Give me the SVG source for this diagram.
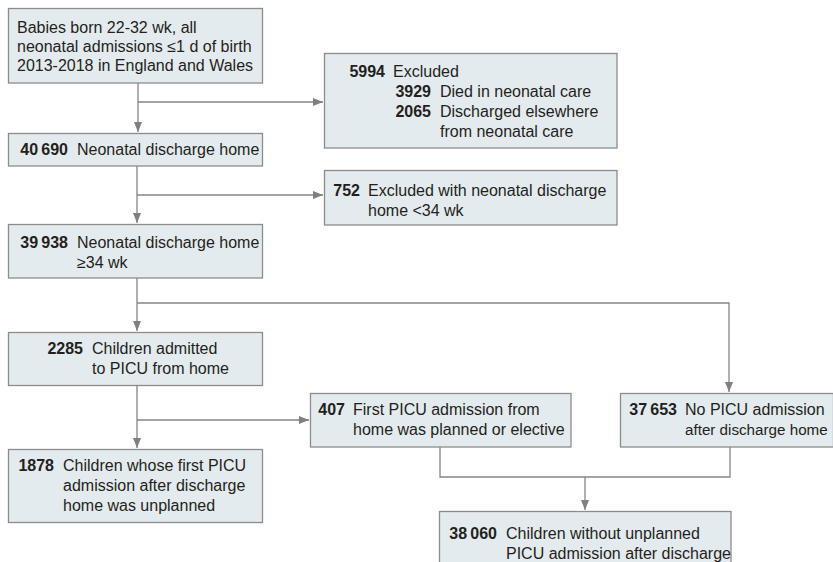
<svg xmlns="http://www.w3.org/2000/svg" width="833" height="562" viewBox="0 0 833 562">
<defs>
<marker id="arr" viewBox="0 0 10 8" refX="10" refY="4" markerWidth="10" markerHeight="8" markerUnits="userSpaceOnUse" orient="auto">
<path d="M0,0 L10,4 L0,8 Z" fill="#808080"/>
</marker>
<style>
.box{fill:#e4ebee;stroke:#8c8c8c;stroke-width:1.3}
.ln{fill:none;stroke:#858585;stroke-width:1.3}
text{font-family:"Liberation Sans",Arial,sans-serif;font-size:16px;fill:#231f20}
.n{font-weight:bold;text-anchor:end}
</style>
</defs>
<g id="connectors">
<path class="ln" d="M138,83 V132" marker-end="url(#arr)"/>
<path class="ln" d="M138,102 H323" marker-end="url(#arr)"/>
<path class="ln" d="M137,166 V223" marker-end="url(#arr)"/>
<path class="ln" d="M137,195 H323" marker-end="url(#arr)"/>
<path class="ln" d="M137,278 V331" marker-end="url(#arr)"/>
<path class="ln" d="M137,303 H729 V392" marker-end="url(#arr)"/>
<path class="ln" d="M137,385 V448" marker-end="url(#arr)"/>
<path class="ln" d="M137,420 H309" marker-end="url(#arr)"/>
<path class="ln" d="M440,447 V477 H730 V447"/>
<path class="ln" d="M585,477 V510" marker-end="url(#arr)"/>
</g>
<g id="n1">
<rect class="box" x="8.5" y="8.5" width="254" height="74.5"/>
<text x="17" y="33">Babies born 22-32 wk, all</text>
<text x="17" y="52">neonatal admissions ≤1 d of birth</text>
<text x="17" y="71">2013-2018 in England and Wales</text>
</g>
<g id="n2">
<rect class="box" x="8.5" y="133.5" width="254" height="32.5"/>
<text class="n" x="68" y="155">40&#8201;690</text>
<text x="77" y="155">Neonatal discharge home</text>
</g>
<g id="n3">
<rect class="box" x="8.5" y="224.5" width="254" height="53.5"/>
<text class="n" x="68" y="248">39&#8201;938</text>
<text x="77" y="248">Neonatal discharge home</text>
<text x="77" y="268">≥34 wk</text>
</g>
<g id="n4">
<rect class="box" x="8.5" y="332.5" width="254" height="53"/>
<text class="n" x="83" y="354">2285</text>
<text x="92" y="354">Children admitted</text>
<text x="92" y="374">to PICU from home</text>
</g>
<g id="n5">
<rect class="box" x="8.5" y="449.5" width="254" height="73"/>
<text class="n" x="54" y="471">1878</text>
<text x="63" y="471">Children whose first PICU</text>
<text x="63" y="491">admission after discharge</text>
<text x="63" y="511">home was unplanned</text>
</g>
<g id="e1">
<rect class="box" x="324.5" y="53.5" width="292.5" height="94.5"/>
<text class="n" x="385" y="77">5994</text>
<text x="393" y="77">Excluded</text>
<text class="n" x="431" y="97">3929</text>
<text x="440" y="97">Died in neonatal care</text>
<text class="n" x="431" y="117">2065</text>
<text x="440" y="117">Discharged elsewhere</text>
<text x="440" y="137">from neonatal care</text>
</g>
<g id="e2">
<rect class="box" x="324.5" y="170.5" width="292.5" height="54.5"/>
<text class="n" x="360" y="196">752</text>
<text x="368" y="196">Excluded with neonatal discharge</text>
<text x="368" y="216">home &lt;34 wk</text>
</g>
<g id="p1">
<rect class="box" x="310.5" y="393.5" width="260.5" height="53.5"/>
<text class="n" x="345" y="415">407</text>
<text x="353" y="415">First PICU admission from</text>
<text x="353" y="435">home was planned or elective</text>
</g>
<g id="p2">
<rect class="box" x="620.5" y="393.5" width="213" height="53.5"/>
<text class="n" x="677" y="415">37&#8201;653</text>
<text x="685" y="415">No PICU admission</text>
<text x="685" y="435" style="font-size:15.2px">after discharge home</text>
</g>
<g id="p3">
<rect class="box" x="439.5" y="511.5" width="291.5" height="70"/>
<text class="n" x="497" y="539">38&#8201;060</text>
<text x="506" y="539">Children without unplanned</text>
<text x="506" y="559">PICU admission after discharge</text>
</g>
</svg>
